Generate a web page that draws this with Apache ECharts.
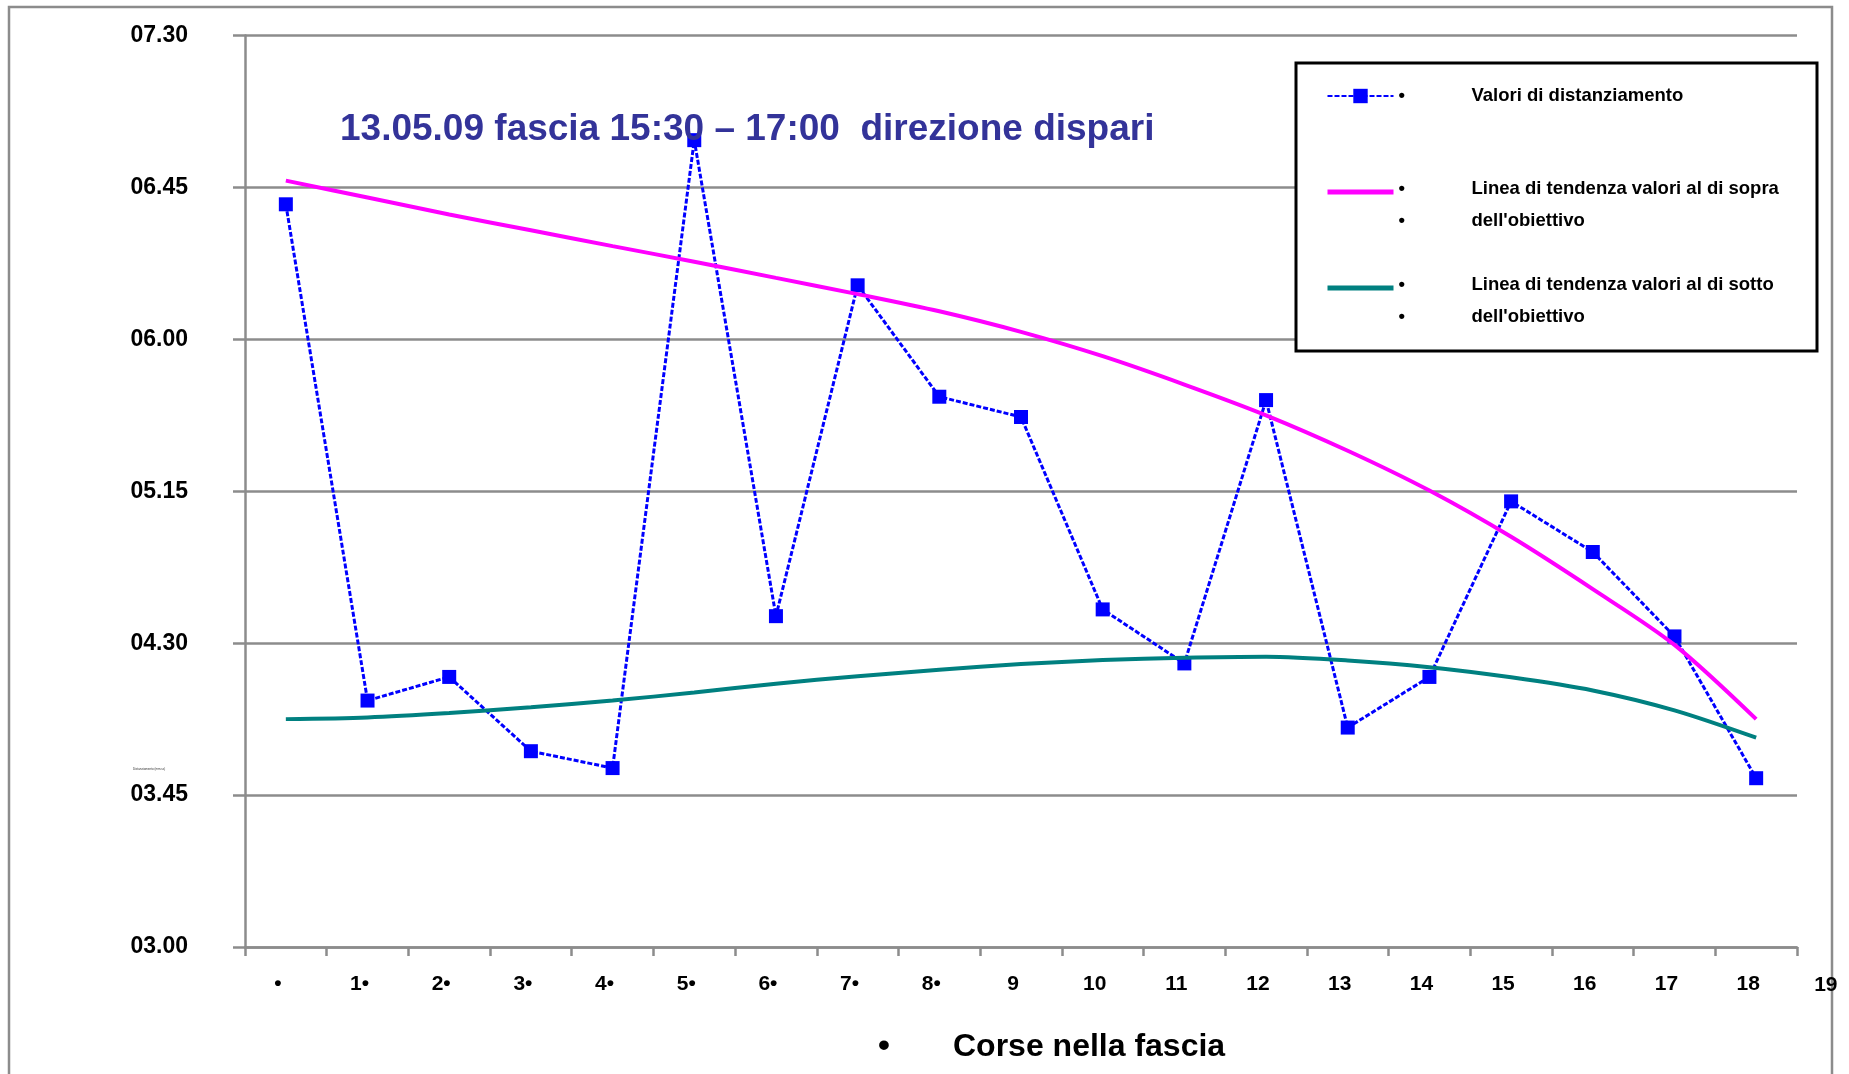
<!DOCTYPE html>
<html>
<head>
<meta charset="utf-8">
<title>Distanziamento corse</title>
<script src="https://cdn.jsdelivr.net/npm/echarts@6/dist/echarts.min.js"></script>
<style>
  html, body { margin: 0; padding: 0; background: #ffffff; }
  #chart { width: 1849px; height: 1074px; }
</style>
</head>
<body>
<div id="chart"></div>
<script>
// Corse nella fascia (categorie) e relative etichette dell'asse X
const corse = ['0', '1', '2', '3', '4', '5', '6', '7', '8', '9', '10', '11', '12', '13', '14', '15', '16', '17', '18'];
const xTickLabels = ['•', '1•', '2•', '3•', '4•', '5•', '6•', '7•', '8•', '9', '10', '11', '12', '13', '14', '15', '16', '17', '18', '19'];

// Asse Y in secondi (mm.ss): 03.00 -> 07.30, passo 45 s
const yMin = 180;
const yMax = 450;
const yStep = 45;
const yTickLabels = ['03.00', '03.45', '04.30', '05.15', '06.00', '06.45', '07.30'];

// Valori di distanziamento (secondi)
const distanziamento = [400, 253, 260, 238, 233, 419, 278, 376, 343, 337, 280, 264, 342, 245, 260, 312, 297, 272, 230];
// Linea di tendenza dei valori al di sopra dell'obiettivo (secondi)
const tendenzaSopra = [407, 402, 397, 392.3, 387.6, 383, 378.2, 373.4, 368.3, 362.2, 355, 346.6, 337.5, 327, 315.2, 301.5, 286, 269.5, 247.5];
// Linea di tendenza dei valori al di sotto dell'obiettivo (secondi)
const tendenzaSotto = [247.5, 248, 249.3, 251, 253, 255.4, 258, 260.2, 262.1, 263.8, 265, 265.7, 266, 264.9, 262.9, 259.9, 256, 250.1, 242];

const titolo = '13.05.09 fascia 15:30 – 17:00  direzione dispari';
const nomeAsseX = 'Corse nella fascia';
const nomeAsseY = 'Distanziamento (mm.ss)';
const legendaRighe = [
  ['Valori di distanziamento'],
  ['Linea di tendenza valori al di sopra', "dell'obiettivo"],
  ['Linea di tendenza valori al di sotto', "dell'obiettivo"]
];
const nomiSerie = legendaRighe.map(r => r.join(' '));

const FONT = "'Liberation Sans', Arial, Helvetica, sans-serif";
const GRIGIO = '#8c8c8c';

const chart = echarts.init(document.getElementById('chart'), null, { renderer: 'canvas' });

const option = {
  backgroundColor: '#ffffff',
  animation: false,
  textStyle: { fontFamily: FONT },
  title: {
    text: titolo,
    left: 340,
    top: 111,
    padding: 0,
    textStyle: { fontSize: 37, fontWeight: 'bold', color: '#333399', fontFamily: FONT }
  },
  grid: { left: 245, right: 52, top: 35.5, bottom: 127 },
  xAxis: {
    type: 'category',
    data: corse,
    boundaryGap: true,
    axisLine: { show: true, lineStyle: { color: GRIGIO, width: 2.5 } },
    axisTick: { show: true, length: 9, interval: 0, lineStyle: { color: GRIGIO, width: 2.5 } },
    axisLabel: {
      interval: 0,
      margin: 27,
      fontSize: 21,
      fontWeight: 'bold',
      color: '#000000',
      fontFamily: FONT,
      padding: [0, 16, 0, 0],
      formatter: (v, i) => xTickLabels[i]
    },
    splitLine: { show: false }
  },
  yAxis: {
    type: 'value',
    min: yMin,
    max: yMax,
    interval: yStep,
    axisLine: { show: true, lineStyle: { color: GRIGIO, width: 2.5 } },
    axisTick: { show: true, length: 12, lineStyle: { color: GRIGIO, width: 2.5 } },
    axisLabel: {
      margin: 57,
      fontSize: 23,
      fontWeight: 'bold',
      color: '#000000',
      fontFamily: FONT,
      padding: [0, 0, 9, 0],
      formatter: v => yTickLabels[Math.round((v - yMin) / yStep)]
    },
    splitLine: { show: true, lineStyle: { color: GRIGIO, width: 2.5 } }
  },
  legend: {
    orient: 'vertical',
    left: 1325,
    top: 48,
    padding: 0,
    itemGap: 0,
    itemWidth: 66,
    itemHeight: 18,
    selectedMode: false,
    z: 5,
    textStyle: {
      color: '#000000',
      fontSize: 18.5,
      fontWeight: 'bold',
      fontFamily: FONT,
      lineHeight: 32,
      backgroundColor: 'rgba(255,255,255,0)',
      rich: {
        b: { width: 73, fontSize: 18.5, fontWeight: 'bold', lineHeight: 32, color: '#000000', fontFamily: FONT },
        t: { fontSize: 18.5, fontWeight: 'bold', lineHeight: 32, color: '#000000', fontFamily: FONT }
      }
    },
    formatter: name => {
      const idx = nomiSerie.indexOf(name);
      return legendaRighe[idx].map(r => '{b|•}{t|' + r + '}').join('\n');
    },
    data: [
      { name: nomiSerie[0], textStyle: { padding: [32, 0, 32, 0] } },
      { name: nomiSerie[1], itemStyle: { opacity: 0 }, lineStyle: { width: 5 }, textStyle: { padding: [29, 0, 3, 0] } },
      { name: nomiSerie[2], itemStyle: { opacity: 0 }, lineStyle: { width: 5 }, textStyle: { padding: [29, 0, 3, 0] } }
    ]
  },
  series: [
    {
      name: nomiSerie[0],
      type: 'line',
      data: distanziamento,
      symbol: 'rect',
      symbolSize: 14,
      itemStyle: { color: '#0000ff' },
      lineStyle: { color: '#0000ff', width: 3, type: [5, 2] },
      z: 2
    },
    {
      name: nomiSerie[1],
      type: 'line',
      data: tendenzaSopra,
      smooth: 0.3,
      symbol: 'none',
      itemStyle: { color: '#ff00ff' },
      lineStyle: { color: '#ff00ff', width: 4 },
      z: 3
    },
    {
      name: nomiSerie[2],
      type: 'line',
      data: tendenzaSotto,
      smooth: 0.3,
      symbol: 'none',
      itemStyle: { color: '#008080' },
      lineStyle: { color: '#008080', width: 4 },
      z: 3
    }
  ]
};

chart.setOption(option);

// L'ultima etichetta "19" cade mezza categoria oltre la fine dell'asse
const px17 = chart.convertToPixel({ xAxisIndex: 0 }, 17);
const px18 = chart.convertToPixel({ xAxisIndex: 0 }, 18);
const x19 = px18 + (px18 - px17);
const yAsse = chart.convertToPixel({ yAxisIndex: 0 }, yMin);

chart.setOption({
  graphic: [
    {
      type: 'rect',
      z: -10,
      silent: true,
      shape: { x: 9, y: 7, width: 1823, height: 1100 },
      style: { fill: 'none', stroke: GRIGIO, lineWidth: 2.5 }
    },
    {
      type: 'rect',
      z: 4,
      silent: true,
      shape: { x: 1296, y: 63, width: 521, height: 288 },
      style: { fill: '#ffffff', stroke: '#000000', lineWidth: 3 }
    },
    {
      type: 'text',
      z: 5,
      silent: true,
      style: {
        x: x19 - 12,
        y: yAsse + 38,
        text: xTickLabels[19],
        fontSize: 21,
        fontWeight: 'bold',
        fontFamily: FONT,
        fill: '#000000',
        align: 'center',
        verticalAlign: 'middle'
      }
    },
    {
      type: 'text',
      z: 5,
      silent: true,
      style: {
        x: 878,
        y: 1047,
        text: '{b|•}{t|' + nomeAsseX + '}',
        verticalAlign: 'middle',
        rich: {
          b: { width: 75, fontSize: 34, fontWeight: 'bold', fontFamily: FONT, fill: '#000000' },
          t: { fontSize: 32, fontWeight: 'bold', fontFamily: FONT, fill: '#000000' }
        }
      }
    },
    {
      type: 'text',
      z: 5,
      silent: true,
      style: {
        x: 133,
        y: 769,
        text: nomeAsseY,
        fontSize: 3,
        fontFamily: FONT,
        fill: '#333333',
        verticalAlign: 'middle'
      }
    }
  ]
});
</script>
</body>
</html>
